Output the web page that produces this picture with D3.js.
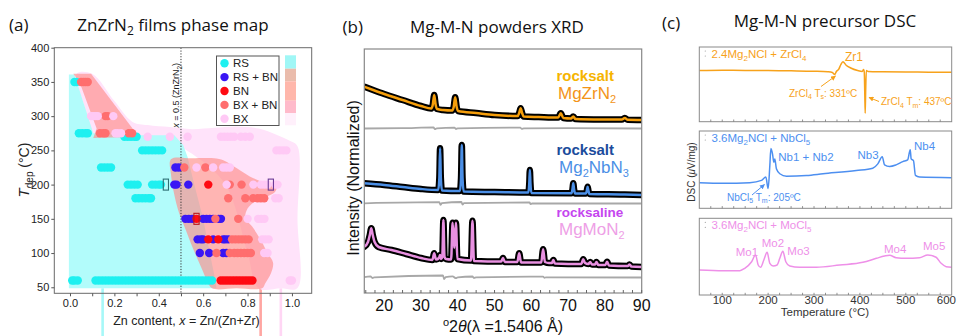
<!DOCTYPE html>
<html><head><meta charset="utf-8">
<script src="https://cdn.jsdelivr.net/npm/d3@7"></script>
<style>html,body{margin:0;padding:0;background:#fff;}svg{display:block;}</style>
</head><body>
<svg id="chart" width="957" height="336"></svg>
<script>
// ================= DATA =================
// ---- (a) ZnZrN2 phase map ----
const phaseNames = ["RS", "RS + BN", "BN", "BX + BN", "BX"];
const phaseTicksT = [50, 100, 150, 200, 250, 300, 350, 400];
const phaseTicksX = [0, 0.1, 0.2, 0.3, 0.4, 0.5, 0.6, 0.7, 0.8, 0.9, 1.0];
// rows: [T_dep, [x values]]
const ptsRS = [
  [350, [0.02, 0.03]],
  [275, [0.04, 0.055, 0.07, 0.08]],
  [270, [0.245, 0.26, 0.275, 0.29, 0.30]],
  [250, [0.325, 0.34, 0.355, 0.37, 0.385, 0.40, 0.415]],
  [225, [0.14, 0.155, 0.17, 0.185]],
  [200, [0.26, 0.275, 0.29, 0.305, 0.37, 0.385, 0.40, 0.41]],
  [180, [0.295, 0.31, 0.325, 0.34, 0.355, 0.365]],
  [60, [0.01, 0.02, 0.035, 0.115, 0.13, 0.145, 0.16, 0.175, 0.19, 0.205, 0.22, 0.235, 0.25, 0.265, 0.28, 0.295, 0.31, 0.325, 0.34, 0.355, 0.37, 0.385, 0.40, 0.415, 0.43, 0.445, 0.46, 0.475, 0.49, 0.505, 0.52, 0.535, 0.55, 0.565, 0.58, 0.595, 0.61, 0.625, 0.64]]
];
const ptsRSBN = [
  [225, [0.475, 0.49]],
  [200, [0.47, 0.48, 0.533]],
  [150, [0.52, 0.535, 0.55, 0.60, 0.615, 0.63, 0.645, 0.67, 0.68]],
  [120, [0.575, 0.59, 0.60, 0.645, 0.69, 0.70, 0.713]],
  [100, [0.585, 0.627, 0.69, 0.705]]
];
const ptsBN = [
  [200, [0.623]],
  [150, [0.57]],
  [120, [0.623, 0.668]],
  [60, [0.679, 0.692, 0.705, 0.718, 0.731, 0.744, 0.757, 0.77, 0.783, 0.796, 0.809, 0.822]]
];
const ptsBXBN = [
  [350, [0.05, 0.06, 0.07, 0.08]],
  [300, [0.16, 0.17]],
  [275, [0.135, 0.15, 0.16, 0.265, 0.28]],
  [225, [0.515, 0.61]],
  [200, [0.72, 0.773]],
  [180, [0.713, 0.79, 0.825, 0.845, 0.86, 0.875]],
  [150, [0.655, 0.758]],
  [120, [0.73, 0.745, 0.76, 0.775, 0.79, 0.805]],
  [100, [0.66, 0.72, 0.74, 0.755, 0.77, 0.785, 0.80, 0.815]]
];
const ptsBX = [
  [300, [0.095, 0.105, 0.115, 0.125, 0.195]],
  [275, [0.205, 0.215, 0.23]],
  [270, [0.35, 0.45, 0.53, 0.68, 0.695, 0.71, 0.725, 0.74, 0.77, 0.79, 0.81]],
  [250, [0.93, 0.945, 0.96, 0.975]],
  [225, [0.57, 0.645, 0.69, 0.705, 0.72]],
  [200, [0.706, 0.826, 0.86, 0.875, 0.89, 0.925, 0.935]],
  [180, [0.925, 0.94]],
  [150, [0.80, 0.848, 0.862, 0.876]],
  [120, [0.866, 0.88, 0.895]],
  [100, [0.875, 0.89]],
  [60, [0.99, 1.0]]
];
// highlighted samples: x, T, phase
const markX = [0.432, 0.57, 0.905];
const markT = [200, 150, 200];
const markPhase = ["RS", "BN", "BX"];
// phase-field regions (x, T)
const regionBX = [[0.03,362],[0.10,362],[0.20,322],[0.28,292],[0.35,287],[0.45,284],[0.55,281],[0.65,283],[0.75,285],[0.85,282],[0.93,273],[0.99,264],[1.025,256],[1.025,150],[1.025,49],[0.95,48.5],[0.85,48.5],[0.80,100],[0.70,200],[0.55,245],[0.45,262],[0.30,268],[0.12,270],[0.06,320]];
const regionRS = [[-0.005,361],[0.02,361],[0.105,275],[0.2,273],[0.3,272],[0.47,272],[0.51,258],[0.53,240],[0.56,200],[0.60,150],[0.63,100],[0.655,60],[0.66,48.5],[-0.005,48.5]];
const regionBXBN1 = [[0.015,362],[0.095,362],[0.31,270],[0.105,268],[0.12,282],[0.045,348]];
const regionBXBN2 = [[0.455,237],[0.55,238.5],[0.66,238],[0.70,234],[0.735,227],[0.81,212],[0.88,202],[0.93,196],[0.92,188],[0.84,177],[0.80,165],[0.79,150],[0.82,139],[0.86,119],[0.89,100],[0.915,86],[0.905,70],[0.88,56],[0.865,48.5],[0.75,48.5],[0.64,48.5],[0.62,58],[0.59,80],[0.55,110],[0.52,135],[0.49,160],[0.47,185],[0.455,215]];
const regionTrails = [0.147, 0.859, 0.95]; // region traces below the axis (RS, BX+BN, BX)
const trailPhase = ["RS", "BX + BN", "BX"];

// ---- (b) XRD ----
const xrdTicks = [20, 30, 40, 50, 60, 70, 80, 90];
const xrdZr = [[14.6,206.3],[17,203],[20,199],[25,193],[30,187],[32.8,184.5],[33.2,188],[33.6,198],[34.0,188],[34.4,184],[36,183],[38.5,182.5],[38.9,186],[39.3,195.7],[39.7,186],[40.1,182],[45,180],[50,178],[56.3,177],[56.7,180],[57.1,184.7],[57.5,180],[57.9,176.5],[62,176],[67.3,175.5],[68,179.7],[68.7,175],[70.8,174.5],[71.4,176.5],[72,174],[80,173.5],[84.6,173.4],[85.4,175],[86.2,173.2],[90,173]];
const xrdNb = [[14.6,109.7],[20,108],[25,106],[30,104],[34.7,103],[35.0,115],[35.2,144.7],[35.4,115],[35.7,102.5],[40.6,102],[40.9,115],[41.1,148],[41.3,115],[41.6,101.5],[50,101],[59.2,100.5],[59.45,110],[59.6,123],[59.75,110],[60.0,100],[70.9,99.7],[71.2,104],[71.4,109.7],[71.6,104],[71.9,99.5],[74.8,99.5],[75.1,102.5],[75.3,106.3],[75.5,102.5],[75.8,99],[85,98.5],[90,98]];
const xrdMo = [[14.6,46.3],[15.6,51],[16.1,58],[16.5,64.7],[16.9,58],[17.4,51],[18.5,46],[22,43],[26,39],[30,35],[33.1,33],[33.6,39.7],[34.1,33.5],[34.9,35],[35.2,38],[35.5,34],[35.8,36],[36.1,73],[36.4,36],[36.8,34],[38.2,33.5],[38.6,70.3],[39.05,45],[39.5,70.3],[39.9,34],[43.6,32.5],[44.0,72.3],[44.4,32],[51.8,31.5],[52.3,35],[52.8,31],[56.2,31],[56.7,39.7],[57.2,30.5],[62.7,30.5],[63.2,43.7],[63.7,31],[64.8,30],[65.6,30],[66.0,33],[66.4,29.5],[73.6,29],[74.1,33.7],[74.6,30],[75.5,29],[76.0,31],[76.5,28.5],[77.3,28.5],[77.7,31],[78.2,28],[80.1,28],[80.6,31.3],[81.1,27.5],[86.2,27],[86.7,28.5],[87.2,26.5],[90,26]];
const resZr = [[14.6,164.5],[25,164.8],[33.4,165.6],[33.8,163.8],[34.3,164.7],[39.1,165.4],[39.5,164],[40,164.7],[57,165.3],[57.4,164.2],[58,164.7],[70,164.9],[90,164.5]];
const resNb = [[14.6,89.7],[35.0,90.8],[35.3,88.2],[35.7,89.9],[41.0,91],[41.3,88.5],[41.7,89.8],[59.5,90.5],[59.8,89],[60.2,89.7],[90,89.5]];
const resMo = [[14.6,15.8],[16.3,16.6],[16.8,15],[17.3,15.7],[36.0,17.5],[36.3,13.8],[36.7,15.8],[38.6,16.7],[39.5,14.8],[40,15.7],[44,16.5],[44.4,15],[45,15.7],[63.2,16.3],[63.6,15.2],[64,15.7],[90,15.5]];

// ---- (c) DSC ----
const dscTicks = [100, 200, 300, 400, 500, 600];
const dscZr = [[50,68.5],[100,68.8],[150,68.7],[200,68.4],[250,68.1],[300,67.6],[330,66.8],[340,65.9],[345,63.2],[349,67.5],[354,70.5],[358,75.9],[363,80.3],[370,75.5],[380,71.9],[395,68.5],[405,67.2],[408,70],[409.5,66.5],[410.5,40],[411.5,11.2],[412.5,40],[414,68.5],[418,67.2],[450,66.8],[500,66.5],[550,66.3],[600,66.1]];
const dscNb = [[50,33.2],[102,32.3],[160,33.2],[185.6,36.1],[195,40.4],[200,25.5],[203.7,55.3],[206,77.4],[209.6,70.2],[212.4,59.5],[214.6,63.9],[218,51.1],[225.4,44.7],[240,41.6],[283.5,42.5],[319.6,44.7],[392,48.9],[428,51.9],[439,57.5],[448.7,66.8],[453.7,56.2],[464.6,54.0],[479,56.2],[493.5,60.4],[504,62.6],[509.6,75.7],[511.7,63.9],[516.7,61.7],[521,42.5],[529.8,40.4],[600,39.6]];
const dscMo = [[50,32.6],[102,31.7],[138.5,31.7],[149,34.8],[164,43.4],[172.6,52.2],[178.3,39.1],[183.4,36.1],[190.6,45.6],[197.8,55.7],[203.7,41.3],[210.9,37.8],[219.6,39.1],[225.4,47.8],[232,57.0],[238.5,43.4],[247.2,37.8],[269,36.1],[305,36.1],[355.9,39.1],[406.5,42.6],[435.7,47.8],[453.7,50.8],[464.6,51.8],[479,48.6],[500.9,47.8],[529.8,48.6],[547.9,52.2],[566,49.2],[577,41.3],[588,36.9],[600,36.1]];

// ================= STYLE =================
const SANS = "'Liberation Sans', Arial, Helvetica, sans-serif";
const OPEN = "'Open Sans', 'Noto Sans', sans-serif";
const phaseColor = {"RS":"#1ef0f0","RS + BN":"#3a16f4","BN":"#ff0a12","BX + BN":"#ff6e6e","BX":"#ffc9f5"};
const markColor = {"RS":"#2d6f73","BN":"#b8161c","BX":"#6b3a96"};
const trailColor = {"RS":"#a6f8f8","BX + BN":"#ffa6a2","BX":"#ffd6f4"};
const stripColors = ["#a0f7f6","#eabcac","#ffb7ab","#ffbbcb","#fff0fb"];

const svg = d3.select("#chart");
const defs = svg.append("defs");

function rich(parent, x, y, segs, opt) {
  const t = parent.append("text").attr("x", x).attr("y", y);
  Object.entries(opt || {}).forEach(([k, v]) => t.attr(k, v));
  let cur = 0;
  segs.forEach(s => {
    const sp = t.append("tspan").text(s.t);
    const target = s.sub ? s.sub : (s.sup ? -s.sup : 0);
    if (target !== cur) { sp.attr("dy", target - cur); cur = target; }
    if (s.fs) sp.attr("font-size", s.fs);
    if (s.it) sp.attr("font-style", "italic");
  });
  return t;
}

// ================= PANEL A =================
const xA = d3.scaleLinear().domain([-0.0707, 1.089]).range([54.3, 311.7]);
const yA = d3.scaleLinear().domain([41.2, 400]).range([293.3, 47.7]);
const aL = xA.range()[0], aR = xA.range()[1], aB = yA.range()[0], aT = yA.range()[1];
defs.append("clipPath").attr("id", "clipA").append("rect")
  .attr("x", aL).attr("y", aT).attr("width", aR - aL).attr("height", aB - aT);
const gA = svg.append("g");

// trails of the regions below the axis
regionTrails.forEach((xv, i) => {
  gA.append("line").attr("x1", xA(xv)).attr("x2", xA(xv))
    .attr("y1", yA(48.5)).attr("y2", 336)
    .attr("stroke", trailColor[trailPhase[i]]).attr("stroke-width", 2.6);
});

const regA = gA.append("g").attr("clip-path", "url(#clipA)");
const lineA = d3.line().x(d => xA(d[0])).y(d => yA(d[1]));
regA.append("path").attr("d", lineA.curve(d3.curveCatmullRomClosed.alpha(0.5))(regionBX)).attr("fill", "#ffe3fa");
regA.append("path").attr("d", lineA.curve(d3.curveLinearClosed)(regionRS)).attr("fill", "#b2fcfb");
regA.append("path").attr("d", lineA.curve(d3.curveLinearClosed)(regionBXBN1)).attr("fill", "#ff8c88").attr("fill-opacity", 0.64);
regA.append("path").attr("d", lineA.curve(d3.curveCatmullRomClosed.alpha(0.5))(regionBXBN2)).attr("fill", "#ff8c88").attr("fill-opacity", 0.64);

// dotted composition line
regA.append("line").attr("x1", xA(0.5)).attr("x2", xA(0.5)).attr("y1", aT).attr("y2", aB)
  .attr("stroke", "#333").attr("stroke-width", 1).attr("stroke-dasharray", "1.2,1.6");
rich(gA, 0, 0, [{t:"x", it:true},{t:" = 0.5 (ZnZrN"},{t:"2", sub:2.5, fs:6.5},{t:")"}],
  {"font-family": SANS, "font-size": 9, fill: "#222",
   transform: `translate(${xA(0.5) - 1.8},${yA(283)}) rotate(-90)`});

// points
const flat = rows => rows.flatMap(([T, xs]) => xs.map(x => [x, T]));
const drawOrder = [["RS", ptsRS], ["RS + BN", ptsRSBN], ["BX + BN", ptsBXBN], ["BX", ptsBX], ["BN", ptsBN]];
drawOrder.forEach(([name, rows]) => {
  gA.append("g").attr("clip-path", "url(#clipA)").selectAll("circle").data(flat(rows)).join("circle")
    .attr("cx", d => xA(d[0])).attr("cy", d => yA(d[1])).attr("r", 4.2)
    .attr("fill", phaseColor[name]);
});
// marked samples
gA.selectAll("rect.mark").data(markX.map((x, i) => ({x, T: markT[i], p: markPhase[i]}))).join("rect")
  .attr("class", "mark").attr("x", d => xA(d.x) - 2.6).attr("y", d => yA(d.T) - 5.5)
  .attr("width", 5.2).attr("height", 11).attr("fill", "none")
  .attr("stroke", d => markColor[d.p]).attr("stroke-width", 1.1);

// frame
gA.append("rect").attr("x", aL).attr("y", aT).attr("width", aR - aL).attr("height", aB - aT)
  .attr("fill", "none").attr("stroke", "#6a6a6a").attr("stroke-width", 1);
// axes
const axLeftA = gA.append("g").attr("transform", `translate(${aL},0)`)
  .call(d3.axisLeft(yA).tickValues(phaseTicksT).tickSize(3).tickPadding(2));
const axBotA = gA.append("g").attr("transform", `translate(0,${aB})`)
  .call(d3.axisBottom(xA).tickValues(phaseTicksX).tickSize(3).tickPadding(3)
    .tickFormat(d => (Math.round(d * 10) % 2 === 0) ? d.toFixed(1) : ""));
[axLeftA, axBotA].forEach(ax => {
  ax.select(".domain").remove();
  ax.selectAll("line").attr("stroke", "#555");
  ax.selectAll("text").attr("font-family", SANS).attr("font-size", 11).attr("fill", "#222");
});

// legend
const legA = gA.append("g");
legA.append("rect").attr("x", 216.5).attr("y", 56).attr("width", 62.5).attr("height", 69.5)
  .attr("fill", "#fff").attr("stroke", "#555").attr("stroke-width", 1);
phaseNames.forEach((n, i) => {
  const yy = 63.2 + i * 13.9;
  legA.append("circle").attr("cx", 224.5).attr("cy", yy).attr("r", 4.2).attr("fill", phaseColor[n]);
  legA.append("text").attr("x", 233).attr("y", yy + 4.2).text(n)
    .attr("font-family", SANS).attr("font-size", 11.5).attr("fill", "#222");
});
const stripY = [55.3, 68.7, 81.3, 100.7, 113, 125.3];
stripColors.forEach((c, i) => {
  legA.append("rect").attr("x", 285).attr("y", stripY[i]).attr("width", 11)
    .attr("height", stripY[i + 1] - stripY[i]).attr("fill", c);
});

// labels
svg.append("text").attr("x", 9).attr("y", 30.5).text("(a)")
  .attr("font-family", OPEN).attr("font-size", 17).attr("fill", "#111");
rich(svg, 173, 31, [{t:"ZnZrN"},{t:"2", sub:4, fs:12},{t:" films phase map"}],
  {"font-family": OPEN, "font-size": 17, fill: "#111", "text-anchor": "middle"});
rich(svg, 0, 0, [{t:"T", it:true, fs:15},{t:"dep", sub:3.5, fs:10},{t:" (°C)", fs:14}],
  {"font-family": SANS, fill: "#222", "text-anchor": "middle", transform: "translate(29,170) rotate(-90)"});
rich(svg, 186.5, 325, [{t:"Zn content, "},{t:"x", it:true},{t:" = Zn/(Zn+Zr)"}],
  {"font-family": SANS, "font-size": 12.5, fill: "#222", "text-anchor": "middle"});

// ================= PANEL B =================
const xB = d3.scaleLinear().domain([14.6, 90]).range([364.3, 641.7]);
const yB = d3.scaleLinear().domain([0, 244]).range([293, 49]);
const bL = xB.range()[0], bR = xB.range()[1], bB = yB.range()[0], bT = yB.range()[1];
defs.append("clipPath").attr("id", "clipB").append("rect")
  .attr("x", bL).attr("y", bT).attr("width", bR - bL).attr("height", bB - bT);
const gB = svg.append("g");
const plotB = gB.append("g").attr("clip-path", "url(#clipB)");
const lineB = d3.line().x(d => xB(d[0])).y(d => yB(d[1])).curve(d3.curveMonotoneX);
[resZr, resNb, resMo].forEach(r => {
  plotB.append("path").attr("d", lineB(r)).attr("fill", "none").attr("stroke", "#a8a8a8").attr("stroke-width", 1.8);
});
const xrdSeries = [[xrdZr, "#f59e0b"], [xrdNb, "#4b8fe6"], [xrdMo, "#e890e0"]];
xrdSeries.forEach(([d, c]) => {
  plotB.append("path").attr("d", lineB(d)).attr("fill", "none").attr("stroke", "#000")
    .attr("stroke-width", 6.5).attr("stroke-linejoin", "round").attr("stroke-linecap", "round");
  plotB.append("path").attr("d", lineB(d)).attr("fill", "none").attr("stroke", c)
    .attr("stroke-width", 2.5).attr("stroke-linejoin", "round");
});
gB.append("rect").attr("x", bL).attr("y", bT).attr("width", bR - bL).attr("height", bB - bT)
  .attr("fill", "none").attr("stroke", "#888").attr("stroke-width", 1.2);
gB.append("g").selectAll("line").data(d3.range(15, 90.01, 2.5)).join("line")
  .attr("x1", d => xB(d)).attr("x2", d => xB(d)).attr("y1", bB).attr("y2", bB - 3)
  .attr("stroke", "#666").attr("stroke-width", 1);
gB.append("g").selectAll("text").data(xrdTicks).join("text")
  .attr("x", d => xB(d)).attr("y", 310.5).attr("text-anchor", "middle").text(d => d)
  .attr("font-family", SANS).attr("font-size", 16).attr("fill", "#111");
rich(svg, 503, 332, [{t:"o", sup:6, fs:11},{t:"2"},{t:"θ", it:true},{t:"(λ", it:false},{t:" =1.5406 Å)"}],
  {"font-family": SANS, "font-size": 16, fill: "#111", "text-anchor": "middle"});
svg.append("text").attr("transform", "translate(358.5,178) rotate(-90)").attr("text-anchor", "middle")
  .text("Intensity (Normalized)").attr("font-family", SANS).attr("font-size", 16).attr("fill", "#111");
svg.append("text").attr("x", 342.5).attr("y", 32.5).text("(b)")
  .attr("font-family", OPEN).attr("font-size", 17).attr("fill", "#111");
svg.append("text").attr("x", 497).attr("y", 32.5).attr("text-anchor", "middle").text("Mg-M-N powders XRD")
  .attr("font-family", OPEN).attr("font-size", 17).attr("fill", "#111");
// curve labels
const lb = gB.append("g").attr("font-family", SANS);
lb.append("text").attr("x", 556.5).attr("y", 80.5).text("rocksalt").attr("font-size", 15).attr("font-weight", "bold").attr("fill", "#f6b400");
rich(lb, 558, 98.5, [{t:"MgZrN"},{t:"2", sub:4, fs:11}], {"font-size": 17, fill: "#f39418"});
lb.append("text").attr("x", 556.5).attr("y", 155).text("rocksalt").attr("font-size", 15).attr("font-weight", "bold").attr("fill", "#1c4c9c");
rich(lb, 559, 172.7, [{t:"Mg"},{t:"2", sub:4, fs:11},{t:"NbN"},{t:"3", sub:4, fs:11}], {"font-size": 17, fill: "#4b8fe6"});
lb.append("text").attr("x", 556.5).attr("y", 216.7).text("rocksaline").attr("font-size", 13.5).attr("font-weight", "bold").attr("fill", "#c545ef");
rich(lb, 559, 234.5, [{t:"MgMoN"},{t:"2", sub:4, fs:11}], {"font-size": 17, fill: "#eea0e6"});

// ================= PANEL C =================
const xC = d3.scaleLinear().domain([50, 600]).range([699.3, 951.7]);
const cL = xC.range()[0], cR = xC.range()[1];
const framesC = [{top: 47, bottom: 121.7}, {top: 131, bottom: 208.3}, {top: 218.3, bottom: 295}];
const dscSeries = [[dscZr, "#f7a21b"], [dscNb, "#4d8ff0"], [dscMo, "#ee90e8"]];
const gC = svg.append("g");
framesC.forEach((f, i) => {
  const yC = d3.scaleLinear().domain([0, 100]).range([f.bottom, f.top]);
  defs.append("clipPath").attr("id", "clipC" + i).append("rect")
    .attr("x", cL).attr("y", f.top).attr("width", cR - cL).attr("height", f.bottom - f.top);
  const lineC = d3.line().x(d => xC(d[0])).y(d => yC(d[1])).curve(d3.curveMonotoneX);
  gC.append("path").attr("clip-path", `url(#clipC${i})`).attr("d", lineC(dscSeries[i][0]))
    .attr("fill", "none").attr("stroke", dscSeries[i][1]).attr("stroke-width", 1.5).attr("stroke-linejoin", "round");
  gC.append("rect").attr("x", cL).attr("y", f.top).attr("width", cR - cL).attr("height", f.bottom - f.top)
    .attr("fill", "none").attr("stroke", "#8a8a8a").attr("stroke-width", 1);
  gC.append("g").selectAll("line").data(d3.range(75, 600, 25)).join("line")
    .attr("x1", d => xC(d)).attr("x2", d => xC(d)).attr("y1", f.bottom).attr("y2", f.bottom - 2.2)
    .attr("stroke", "#777").attr("stroke-width", 0.8);
  // small corner dots
  gC.append("circle").attr("cx", cL + 6).attr("cy", f.top + 4).attr("r", 0.6).attr("fill", "#999");
  gC.append("circle").attr("cx", cL + 6).attr("cy", f.top + 9).attr("r", 0.6).attr("fill", "#999");
});
const lastTick = dscTicks[dscTicks.length - 1];
gC.append("g").selectAll("text").data(dscTicks).join("text")
  .attr("x", d => d === lastTick ? 956 : xC(d)).attr("y", 304)
  .attr("text-anchor", d => d === lastTick ? "end" : "middle").text(d => d)
  .attr("font-family", SANS).attr("font-size", 11.5).attr("fill", "#333");
svg.append("text").attr("x", 825).attr("y", 316).attr("text-anchor", "middle").text("Temperature (°C)")
  .attr("font-family", SANS).attr("font-size", 11.5).attr("fill", "#333");
rich(svg, 0, 0, [{t:"DSC ("},{t:"μ", it:true},{t:"V/mg)"}],
  {"font-family": SANS, "font-size": 10, fill: "#333", "text-anchor": "middle", transform: "translate(695,172) rotate(-90)"});
svg.append("text").attr("x", 662).attr("y", 29).text("(c)")
  .attr("font-family", OPEN).attr("font-size", 17).attr("fill", "#111");
svg.append("text").attr("x", 825).attr("y", 27).attr("text-anchor", "middle").text("Mg-M-N precursor DSC")
  .attr("font-family", OPEN).attr("font-size", 17).attr("fill", "#111");

// annotations
function arrowMarker(id, c) {
  defs.append("marker").attr("id", id).attr("viewBox", "0 0 10 10").attr("refX", 9).attr("refY", 5)
    .attr("markerWidth", 5).attr("markerHeight", 5).attr("markerUnits", "userSpaceOnUse").attr("orient", "auto")
    .append("path").attr("d", "M0,0 L10,5 L0,10 Z").attr("fill", c);
}
arrowMarker("arO", "#f7a21b"); arrowMarker("arB", "#4d8ff0");
const an = gC.append("g").attr("font-family", SANS);
const O = "#f7a21b", B = "#4d8ff0", P = "#ee90e8";
rich(an, 711.5, 57.5, [{t:"2.4Mg"},{t:"2", sub:3, fs:8},{t:"NCl + ZrCl"},{t:"4", sub:3, fs:8}], {"font-size": 11.5, fill: O});
an.append("text").attr("x", 845).attr("y", 61).text("Zr1").attr("font-size", 12).attr("fill", O);
rich(an, 789, 96.5, [{t:"ZrCl"},{t:"4", sub:2.5, fs:7},{t:" T"},{t:"s", sub:2.5, fs:7},{t:": 331ºC"}], {"font-size": 10, fill: O});
an.append("line").attr("x1", 821).attr("y1", 86.5).attr("x2", 835.5).attr("y2", 76).attr("stroke", O).attr("stroke-width", 1).attr("marker-end", "url(#arO)");
rich(an, 881, 105, [{t:"ZrCl"},{t:"4", sub:2.5, fs:7},{t:" T"},{t:"m", sub:2.5, fs:7},{t:": 437ºC"}], {"font-size": 10, fill: O});
an.append("line").attr("x1", 879).attr("y1", 101.5).attr("x2", 869).attr("y2", 97.5).attr("stroke", O).attr("stroke-width", 1).attr("marker-end", "url(#arO)");

rich(an, 711.5, 142, [{t:"3.6Mg"},{t:"2", sub:3, fs:8},{t:"NCl + NbCl"},{t:"5", sub:3, fs:8}], {"font-size": 11.5, fill: B});
an.append("text").attr("x", 778.3).attr("y", 161).text("Nb1 + Nb2").attr("font-size", 11.5).attr("fill", B);
an.append("text").attr("x", 857.5).attr("y", 158.5).text("Nb3").attr("font-size", 11.5).attr("fill", B);
an.append("text").attr("x", 914).attr("y", 149.5).text("Nb4").attr("font-size", 11.5).attr("fill", B);
rich(an, 727, 200.5, [{t:"NbCl"},{t:"5", sub:2.5, fs:7},{t:" T"},{t:"m", sub:2.5, fs:7},{t:": 205ºC"}], {"font-size": 10, fill: B});
an.append("line").attr("x1", 752).attr("y1", 195).attr("x2", 764.5).attr("y2", 184.5).attr("stroke", B).attr("stroke-width", 1).attr("marker-end", "url(#arB)");

rich(an, 711.5, 228.8, [{t:"3.6Mg"},{t:"2", sub:3, fs:8},{t:"NCl + MoCl"},{t:"5", sub:3, fs:8}], {"font-size": 11.5, fill: P});
[["Mo1", 735.7, 256], ["Mo2", 761.7, 246.5], ["Mo3", 787.3, 254.5], ["Mo4", 884, 253], ["Mo5", 923, 249.5]]
  .forEach(([t, x, y]) => an.append("text").attr("x", x).attr("y", y).text(t).attr("font-size", 11.5).attr("fill", P));
</script>
</body></html>
